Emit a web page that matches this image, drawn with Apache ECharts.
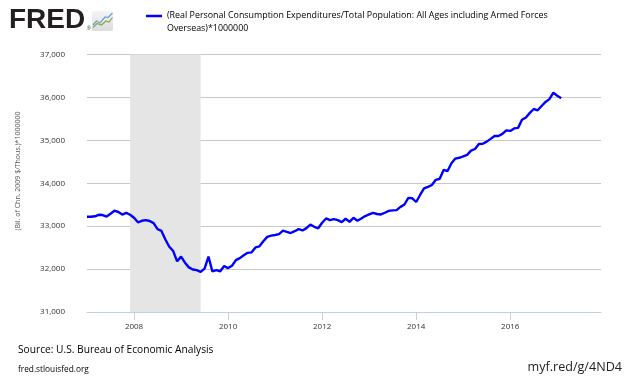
<!DOCTYPE html>
<html><head><meta charset="utf-8">
<script src="https://cdn.jsdelivr.net/npm/echarts@6/dist/echarts.min.js"></script>
<style>html,body{margin:0;padding:0;background:#fff}#c{width:630px;height:378px}</style>
</head><body><div id="c"></div>
<script>
// ---- data ----
const startYear = 2007; // first observation: Jan 2007, monthly
const values = [
  33220,33220,33230,33265,33260,33225,33290,33360,33330,33270,33310,33265,
  33195,33090,33125,33140,33120,33070,32930,32890,32690,32520,32420,32180,
  32290,32150,32040,31990,31975,31935,32010,32290,31945,31975,31950,32070,
  32023,32078,32210,32255,32320,32378,32390,32505,32530,32650,32750,32780,
  32795,32815,32895,32868,32840,32883,32932,32900,32955,33035,32985,32950,
  33080,33180,33141,33164,33141,33094,33172,33102,33195,33125,33180,33235,
  33273,33310,33283,33273,33313,33355,33368,33375,33450,33505,33660,33650,
  33563,33727,33880,33915,33960,34080,34105,34310,34285,34465,34575,34594,
  34626,34662,34760,34798,34915,34921,34970,35034,35101,35101,35150,35232,
  35220,35278,35290,35480,35533,35640,35730,35700,35800,35895,35960,36110,
  36040,35982
];
const xTickValues = [2008, 2010, 2012, 2014, 2016];
const yMin = 31000, yMax = 37000, yStep = 1000;
const recession = [2007 + 11/12, 2007 + 29/12]; // Dec 2007 – Jun 2009
const xMin = 2007, xMax = 2017.93;
const seriesName = '(Real Personal Consumption Expenditures/Total Population: All Ages including Armed Forces Overseas)*1000000';
const legendLine1 = '(Real Personal Consumption Expenditures/Total Population: All Ages including Armed Forces';
const legendLine2 = 'Overseas)*1000000';
const yAxisTitle = '(Bil. of Chn. 2009 $/Thous.)*1000000';
const sourceText = 'Source: U.S. Bureau of Economic Analysis';
const siteText = 'fred.stlouisfed.org';
const linkText = 'myf.red/g/4ND4';

const points = values.map((v, i) => [startYear + i / 12, v]);
const FONT = '"Open Sans", "DejaVu Sans", sans-serif';

const chart = echarts.init(document.getElementById('c'), null, {renderer: 'canvas'});
chart.setOption({
  animation: false,
  backgroundColor: '#ffffff',
  grid: {left: 87, right: 29, top: 54.5, bottom: 66},
  xAxis: {
    type: 'value', min: xMin, max: xMax,
    axisLine: {show: true, lineStyle: {color: '#c0d0e0', width: 1}},
    axisTick: {show: true, customValues: xTickValues, length: 8, lineStyle: {color: '#c0d0e0'}},
    axisLabel: {customValues: xTickValues, margin: 11, fontSize: 8, color: '#333', fontFamily: FONT,
      formatter: v => String(Math.round(v))},
    splitLine: {show: false}
  },
  yAxis: {
    type: 'value', min: yMin, max: yMax, interval: yStep,
    axisLine: {show: false}, axisTick: {show: false},
    axisLabel: {margin: 22, fontSize: 8, color: '#333', fontFamily: FONT,
      formatter: v => v.toLocaleString('en-US')},
    splitLine: {show: true, lineStyle: {color: '#c8c8c8', width: 1}}
  },
  series: [{
    name: seriesName, type: 'line', data: points, showSymbol: false,
    lineStyle: {color: '#0000ff', width: 2.4}, itemStyle: {color: '#0000ff'},
    z: 5,
    markArea: {
      silent: true,
      itemStyle: {color: '#e5e5e5'},
      data: [[{xAxis: recession[0]}, {xAxis: recession[1]}]]
    }
  }],
  graphic: [
    {type: 'text', left: 9, top: 6, style: {text: 'FRED', fontSize: 28, fontWeight: 900,
      fontFamily: '"Liberation Sans", Arial, sans-serif', fill: '#231f20'}},
    {type: 'text', left: 87, top: 26, style: {text: '®', fontSize: 5, fill: '#231f20'}},
    {type: 'rect', shape: {x: 92, y: 11, width: 21, height: 20, r: 2},
      style: {fill: new echarts.graphic.LinearGradient(0,0,0,1,[{offset:0,color:'#f4f4f4'},{offset:1,color:'#dcdcdc'}])}},
    {type: 'polyline', shape: {points: [[93,25],[96.5,21],[100,23],[105,17],[108,17.5],[112.5,13]]},
      style: {stroke: '#6f9fd3', lineWidth: 1.2, fill: null}},
    {type: 'polyline', shape: {points: [[93,27.5],[97,23.5],[101.5,25],[106,21],[109,22],[112.5,17.5]]},
      style: {stroke: '#86a84a', lineWidth: 1.2, fill: null}},
    {type: 'line', shape: {x1: 146, y1: 16, x2: 162, y2: 16}, style: {stroke: '#0000ff', lineWidth: 2.5}},
    {type: 'text', left: 167, top: 11, style: {text: legendLine1, fontSize: 8.9, fill: '#000', fontFamily: FONT}},
    {type: 'text', left: 167, top: 24, style: {text: legendLine2, fontSize: 8.9, fill: '#000', fontFamily: FONT}},
    {type: 'text', x: 18, y: 171, rotation: Math.PI / 2,
      style: {text: yAxisTitle, fontSize: 7, fill: '#555', fontFamily: FONT, align: 'center', verticalAlign: 'middle'}},
    {type: 'text', left: 18, top: 345, style: {text: sourceText, fontSize: 10.2, fill: '#000', fontFamily: FONT}},
    {type: 'text', left: 18, top: 366, style: {text: siteText, fontSize: 8.3, fill: '#000', fontFamily: FONT}},
    {type: 'text', right: 8, top: 361, style: {text: linkText, fontSize: 12.6, fill: '#222', fontFamily: FONT}}
  ]
});
</script>
</body></html>
